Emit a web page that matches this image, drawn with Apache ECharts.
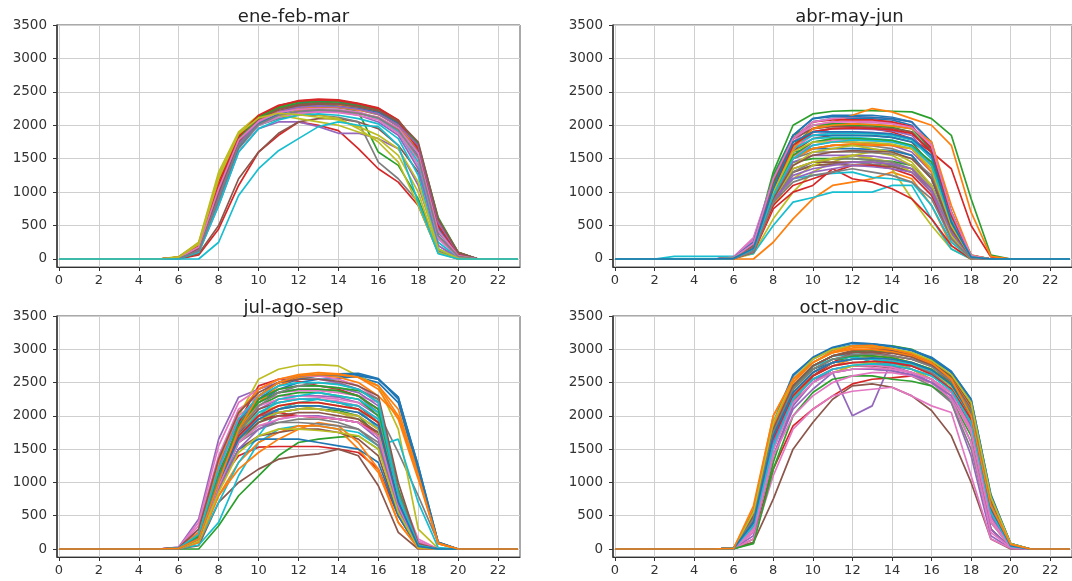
<!DOCTYPE html>
<html>
<head>
<meta charset="utf-8">
<script src="https://cdn.jsdelivr.net/npm/echarts@6/dist/echarts.min.js"></script>
<style>
  html, body { margin: 0; padding: 0; background: #ffffff; }
  #chart { width: 1072px; height: 581px; }
</style>
</head>
<body>
<div id="chart"></div>
<script>
// ---- data ----
const hours = [0,1,2,3,4,5,6,7,8,9,10,11,12,13,14,15,16,17,18,19,20,21,22,23];
const xTickLabels = [0,2,4,6,8,10,12,14,16,18,20,22];
const yTickLabels = [0,500,1000,1500,2000,2500,3000,3500];
const panelTitles = ['ene-feb-mar', 'abr-may-jun', 'jul-ago-sep', 'oct-nov-dic'];

const eneFebMar = [
  [0,0,0,0,0,0,10,120,900,1700,2050,2200,2280,2300,2290,2250,2180,1980,1550,400,60,0,0,0],
  [0,0,0,0,0,0,20,200,1150,1800,2120,2260,2320,2330,2300,2260,2200,2020,1620,500,80,0,0,0],
  [0,0,0,0,0,0,15,150,1000,1750,2080,2250,2300,2310,2280,2200,1600,1400,900,150,10,0,0,0],
  [0,0,0,0,0,0,0,60,450,1100,1600,1850,2050,2000,1920,1650,1350,1150,800,100,0,0,0,0],
  [0,0,0,0,0,0,10,100,800,1600,1950,2050,2050,1980,1880,1880,1800,1650,1100,200,20,0,0,0],
  [0,0,0,0,0,0,5,80,500,1200,1600,1880,2050,2100,2100,2050,1950,1700,1300,350,40,0,0,0],
  [0,0,0,0,0,0,25,220,1100,1750,2050,2180,2230,2240,2230,2200,2100,1900,1400,300,30,0,0,0],
  [0,0,0,0,0,0,10,130,850,1650,2000,2100,2150,2150,2120,2050,1450,1200,850,120,5,0,0,0],
  [0,0,0,0,0,0,30,250,1300,1900,2150,2220,2200,2150,2100,1950,1750,1450,800,90,0,0,0,0],
  [0,0,0,0,0,0,10,150,950,1700,2000,2120,2180,2200,2200,2180,2100,1900,1450,250,20,0,0,0],
  [0,0,0,0,0,0,20,180,1050,1800,2100,2250,2330,2360,2350,2300,2230,2050,1680,550,90,0,0,0],
  [0,0,0,0,0,0,25,210,1200,1850,2100,2200,2230,2240,2220,2180,2120,1950,1600,450,60,0,0,0],
  [0,0,0,0,0,0,20,190,1100,1820,2130,2280,2350,2370,2360,2320,2250,2070,1700,580,95,0,0,0],
  [0,0,0,0,0,0,30,230,1150,1850,2140,2290,2370,2390,2380,2330,2260,2080,1700,600,100,0,0,0],
  [0,0,0,0,0,0,15,160,950,1700,2050,2150,2200,2210,2200,2150,2050,1850,1350,200,15,0,0,0],
  [0,0,0,0,0,0,20,170,1000,1750,2080,2220,2290,2320,2320,2280,2210,2040,1650,520,80,0,0,0],
  [0,0,0,0,0,0,10,140,900,1700,2000,2120,2180,2200,2190,2150,2080,1880,1500,320,30,0,0,0],
  [0,0,0,0,0,0,15,150,950,1720,2030,2180,2250,2270,2260,2230,2160,1990,1600,450,60,0,0,0],
  [0,0,0,0,0,0,35,240,1250,1880,2100,2150,2100,2050,2000,1900,1800,1550,1000,100,0,0,0,0],
  [0,0,0,0,0,0,5,100,800,1600,1950,2080,2150,2170,2150,2100,2020,1800,1250,150,10,0,0,0],
  [0,0,0,0,0,0,10,130,900,1680,2020,2170,2250,2280,2280,2250,2190,2020,1640,480,70,0,0,0],
  [0,0,0,0,0,0,20,190,1100,1780,2080,2200,2260,2280,2270,2230,2170,2000,1650,520,80,0,0,0],
  [0,0,0,0,0,0,15,170,1050,1800,2120,2260,2320,2340,2330,2290,2230,2060,1720,620,100,0,0,0],
  [0,0,0,0,0,0,25,200,1100,1830,2150,2300,2360,2380,2370,2320,2250,2060,1650,500,70,0,0,0],
  [0,0,0,0,0,0,10,140,950,1720,2060,2200,2270,2290,2280,2240,2170,2000,1700,550,90,0,0,0],
  [0,0,0,0,0,0,15,160,1000,1760,2090,2240,2310,2330,2320,2280,2220,2060,1750,600,95,0,0,0],
  [0,0,0,0,0,0,20,180,1050,1780,2060,2190,2240,2250,2230,2190,2120,1960,1580,420,50,0,0,0],
  [0,0,0,0,0,0,10,120,900,1690,2010,2150,2210,2230,2220,2180,2110,1930,1520,350,40,0,0,0],
  [0,0,0,0,0,0,30,220,1200,1870,2110,2180,2160,2120,2080,1980,1850,1650,1150,150,10,0,0,0],
  [0,0,0,0,0,0,0,0,250,950,1350,1620,1800,1980,2050,2000,1980,1700,850,80,0,0,0,0]
];

const abrMayJun = [
  [0,0,0,0,0,0,10,150,1100,1800,2050,2100,2100,2100,2080,2000,1600,600,50,0,0,0,0,0],
  [0,0,0,0,0,0,0,0,250,600,900,1100,1150,1200,1300,1200,800,200,0,0,0,0,0,0],
  [0,0,0,0,0,0,20,200,1300,2000,2170,2210,2220,2220,2210,2200,2100,1850,900,60,0,0,0,0],
  [0,0,0,0,0,0,5,120,900,1600,1900,1950,1950,1950,1900,1800,1600,1350,500,30,0,0,0,0],
  [0,0,0,0,0,0,30,300,1200,1700,1900,1950,1950,1940,1920,1850,1500,500,30,0,0,0,0,0],
  [0,0,0,0,0,0,10,150,1000,1600,1800,1850,1850,1850,1820,1750,1400,450,20,0,0,0,0,0],
  [0,0,0,0,0,0,25,280,1150,1750,2000,2050,2060,2060,2040,1980,1650,600,40,0,0,0,0,0],
  [0,0,0,0,0,0,10,120,800,1300,1400,1420,1450,1420,1400,1300,1000,350,10,0,0,0,0,0],
  [0,0,0,0,0,0,5,80,600,1000,1300,1450,1550,1500,1350,900,500,150,0,0,0,0,0,0],
  [0,0,0,40,40,40,40,80,500,850,920,1000,1000,1000,1100,1100,600,150,0,0,0,0,0,0],
  [0,0,0,0,0,0,15,180,1150,1850,2100,2150,2150,2150,2120,2050,1700,650,60,0,0,0,0,0],
  [0,0,0,0,0,0,10,150,1000,1700,1950,2050,2150,2250,2200,2100,2000,1700,700,40,0,0,0,0],
  [0,0,0,0,0,0,10,140,900,1450,1500,1500,1500,1480,1460,1400,1100,400,20,0,0,0,0,0],
  [0,0,0,0,0,0,5,100,750,1000,1100,1350,1200,1150,1050,900,600,200,0,0,0,0,0,0],
  [0,0,0,0,0,0,20,200,1000,1550,1700,1750,1750,1720,1700,1600,1300,450,20,0,0,0,0,0],
  [0,0,0,0,0,0,10,130,850,1300,1400,1420,1400,1400,1380,1300,1050,380,10,0,0,0,0,0],
  [0,0,0,0,0,0,15,180,1050,1650,1850,1900,1900,1890,1870,1800,1500,500,30,0,0,0,0,0],
  [0,0,0,0,0,0,10,140,950,1500,1650,1700,1700,1690,1650,1550,1200,420,20,0,0,0,0,0],
  [0,0,0,0,0,0,10,120,800,1200,1400,1500,1550,1500,1450,1300,1000,300,10,0,0,0,0,0],
  [0,0,0,0,0,0,10,150,900,1200,1250,1280,1300,1220,1200,1150,800,250,10,0,0,0,0,0],
  [0,0,0,0,0,0,15,170,1100,1750,1850,1850,1850,1840,1820,1750,1550,700,50,0,0,0,0,0],
  [0,0,0,0,0,0,10,140,1000,1500,1650,1700,1720,1700,1700,1650,1300,500,30,0,0,0,0,0],
  [0,0,0,0,0,0,20,220,1250,1850,2000,2020,2020,2010,1990,1950,1650,700,50,0,0,0,0,0],
  [0,0,0,0,0,0,15,180,1150,1800,2050,2080,2080,2080,2050,1980,1650,650,40,0,0,0,0,0],
  [0,0,0,0,0,0,10,150,950,1450,1550,1550,1550,1540,1500,1400,1100,350,20,0,0,0,0,0],
  [0,0,0,0,0,0,10,140,900,1350,1450,1450,1450,1450,1420,1350,1050,350,10,0,0,0,0,0],
  [0,0,0,0,0,0,30,320,1200,1800,2050,2100,2120,2120,2100,2050,1700,650,50,0,0,0,0,0],
  [0,0,0,0,0,0,5,110,850,1300,1450,1500,1500,1480,1450,1350,1050,350,10,0,0,0,0,0],
  [0,0,0,0,0,0,10,130,900,1350,1450,1500,1550,1600,1550,1400,1050,300,0,0,0,0,0,0],
  [0,0,0,0,0,0,15,170,1050,1650,1800,1820,1820,1800,1780,1700,1450,550,30,0,0,0,0,0],
  [0,0,0,0,0,0,15,160,1000,1600,1650,1650,1650,1640,1620,1550,1200,450,20,0,0,0,0,0],
  [0,0,0,0,0,0,10,150,950,1550,1650,1700,1720,1720,1700,1650,1350,500,30,0,0,0,0,0],
  [0,0,0,0,0,0,15,180,1100,1700,1950,2000,2000,1990,1970,1900,1600,650,40,0,0,0,0,0],
  [0,0,0,0,0,0,10,130,800,1100,1200,1300,1400,1400,1350,1250,950,300,10,0,0,0,0,0],
  [0,0,0,0,0,0,10,140,900,1200,1300,1350,1400,1380,1350,1300,1000,350,10,0,0,0,0,0],
  [0,0,0,0,0,0,20,200,1150,1800,1950,1980,1980,1970,1950,1900,1600,600,40,0,0,0,0,0],
  [0,0,0,0,0,0,15,170,1000,1500,1750,1780,1780,1770,1750,1700,1400,500,30,0,0,0,0,0],
  [0,0,0,0,0,0,10,150,950,1500,1600,1600,1600,1590,1570,1500,1250,450,20,0,0,0,0,0],
  [0,0,0,0,0,0,10,140,900,1400,1600,1650,1700,1650,1600,1450,1100,350,10,0,0,0,0,0],
  [0,0,0,0,0,0,15,170,1050,1700,1850,1880,1880,1870,1850,1780,1500,600,40,0,0,0,0,0],
  [0,0,0,0,0,0,20,250,1200,1850,2100,2130,2130,2120,2100,2050,1750,700,50,0,0,0,0,0],
  [0,0,0,0,0,0,10,160,1000,1650,1950,2000,2020,2010,1990,1950,1750,800,60,0,0,0,0,0],
  [0,0,0,0,0,0,10,150,950,1550,1750,1800,1800,1790,1770,1700,1450,550,30,0,0,0,0,0],
  [0,0,0,0,0,0,15,170,1050,1700,1900,1950,1960,1950,1930,1880,1600,650,40,0,0,0,0,0],
  [0,0,0,0,0,0,10,130,850,1250,1350,1400,1450,1450,1420,1350,1050,400,10,0,0,0,0,0],
  [0,0,0,0,0,0,10,140,900,1400,1550,1600,1620,1610,1600,1500,1200,450,20,0,0,0,0,0],
  [0,0,0,0,0,0,20,230,1200,1800,2000,2050,2050,2040,2020,1970,1700,700,50,0,0,0,0,0],
  [0,0,0,0,0,0,10,120,850,1150,1250,1300,1350,1300,1250,1150,900,300,10,0,0,0,0,0],
  [0,0,0,0,0,0,15,160,1000,1600,1750,1750,1750,1740,1720,1650,1350,500,30,0,0,0,0,0],
  [0,0,0,0,0,0,10,150,950,1500,1700,1750,1780,1770,1750,1680,1400,550,30,0,0,0,0,0],
  [0,0,0,0,0,0,10,160,1050,1750,1900,1900,1900,1890,1870,1800,1550,550,30,0,0,0,0,0]
];

const julAgoSep = [
  [0,0,0,0,0,0,10,150,1100,1900,2300,2500,2580,2600,2600,2580,2500,2200,1150,80,0,0,0,0],
  [0,0,0,0,0,0,10,100,900,1700,2400,2550,2600,2620,2620,2580,2450,2000,1200,100,0,0,0,0],
  [0,0,0,0,0,0,0,0,350,800,1100,1400,1600,1650,1680,1700,1500,800,50,0,0,0,0,0],
  [0,0,0,0,0,0,10,150,1000,1400,1530,1540,1540,1540,1500,1450,1200,500,20,0,0,0,0,0],
  [0,0,0,0,0,0,30,450,1650,2280,2400,2500,2550,2550,2500,2400,2200,700,50,0,0,0,0,0],
  [0,0,0,0,0,0,0,50,700,1000,1200,1350,1400,1430,1500,1400,950,250,0,0,0,0,0,0],
  [0,0,0,0,0,0,20,350,1400,2100,2300,2350,2380,2380,2350,2300,2200,900,150,0,0,0,0,0],
  [0,0,0,0,0,0,10,200,1200,1900,2200,2350,2400,2400,2380,2300,2050,1450,800,100,0,0,0,0],
  [0,0,0,0,0,0,10,150,1100,2000,2550,2700,2760,2770,2750,2600,2450,1800,300,10,0,0,0,0],
  [0,0,0,0,0,0,5,60,400,1100,1600,1800,1850,1850,1800,1750,1550,1650,700,20,0,0,0,0],
  [0,0,0,0,0,0,10,150,1000,1800,2200,2400,2500,2550,2560,2600,2550,2280,1250,100,0,0,0,0],
  [0,0,0,0,0,0,5,100,800,1300,1600,1750,1850,1850,1800,1500,1150,400,20,0,0,0,0,0],
  [0,0,0,0,0,0,10,120,900,1600,1900,2050,2100,2100,2080,2000,1700,600,30,0,0,0,0,0],
  [0,0,0,0,0,0,15,200,1150,1900,2450,2550,2520,2450,2400,2300,2100,700,40,0,0,0,0,0],
  [0,0,0,0,0,0,10,150,1000,1700,2100,2250,2300,2300,2280,2200,2000,650,40,0,0,0,0,0],
  [0,0,0,0,0,0,10,120,900,1500,1700,1750,1800,1800,1750,1650,1400,500,20,0,0,0,0,0],
  [0,0,0,0,0,0,20,300,1300,2000,2250,2300,2300,2280,2250,2200,2050,850,120,0,0,0,0,0],
  [0,0,0,0,0,0,10,150,1000,1600,1800,1900,1950,1950,1900,1800,1550,550,30,0,0,0,0,0],
  [0,0,0,0,0,0,10,130,950,1700,2000,2100,2150,2100,2050,1950,1700,600,20,0,0,0,0,0],
  [0,0,0,0,0,0,10,100,700,1300,1700,2100,2200,2250,2200,2100,1800,600,30,0,0,0,0,0],
  [0,0,0,0,0,0,10,130,900,1500,1650,1650,1650,1600,1550,1500,1300,500,20,0,0,0,0,0],
  [0,0,0,0,0,0,5,100,800,1200,1450,1650,1800,1900,1850,1600,1200,400,10,0,0,0,0,0],
  [0,0,0,0,0,0,10,150,1050,1800,2150,2300,2350,2350,2300,2250,2000,750,40,0,0,0,0,0],
  [0,0,0,0,0,0,10,140,950,1700,1950,2000,2000,1980,1950,1900,1700,650,30,0,0,0,0,0],
  [0,0,0,0,0,0,20,250,1250,1950,2250,2400,2450,2450,2420,2350,2150,800,60,0,0,0,0,0],
  [0,0,0,0,0,0,10,160,1050,1750,2100,2200,2250,2250,2200,2150,1900,700,40,0,0,0,0,0],
  [0,0,0,0,0,0,15,220,1200,1850,2150,2250,2250,2250,2220,2150,1950,750,50,0,0,0,0,0],
  [0,0,0,0,0,0,10,140,950,1600,1850,1900,1900,1880,1850,1800,1600,600,30,0,0,0,0,0],
  [0,0,0,0,0,0,10,150,1000,1750,2050,2150,2200,2200,2150,2100,1900,700,40,0,0,0,0,0],
  [0,0,0,0,0,0,10,140,950,1650,2000,2250,2300,2350,2300,2250,2050,800,40,0,0,0,0,0],
  [0,0,0,0,0,0,10,150,1050,1850,2250,2450,2550,2600,2620,2620,2550,2280,1200,90,0,0,0,0],
  [0,0,0,0,0,0,10,150,1000,1800,2200,2450,2580,2600,2580,2500,2300,2000,1100,80,0,0,0,0],
  [0,0,0,0,0,0,15,200,1100,1850,2200,2350,2400,2400,2380,2300,2100,750,40,0,0,0,0,0],
  [0,0,0,0,0,0,10,170,1050,1750,2000,2050,2000,1980,1950,1900,1750,650,30,0,0,0,0,0],
  [0,0,0,0,0,0,10,160,1000,1700,1950,2050,2100,2100,2050,2000,1800,650,30,0,0,0,0,0],
  [0,0,0,0,0,0,10,130,950,1650,1900,2000,2050,2050,2000,1950,1750,600,30,0,0,0,0,0],
  [0,0,0,0,0,0,25,400,1550,2200,2400,2550,2600,2600,2550,2450,2250,850,100,0,0,0,0,0],
  [0,0,0,0,0,0,10,150,1000,1700,2000,2100,2150,2150,2100,2050,1850,700,40,0,0,0,0,0],
  [0,0,0,0,0,0,10,140,950,1650,1950,2050,2100,2100,2050,2000,1800,650,30,0,0,0,0,0],
  [0,0,0,0,0,0,10,150,1000,1700,2050,2200,2250,2250,2200,2150,1950,750,40,0,0,0,0,0],
  [0,0,0,0,0,0,10,150,1050,1800,2300,2500,2600,2620,2630,2640,2560,2250,1250,100,0,0,0,0],
  [0,0,0,0,0,0,15,250,1300,2050,2400,2550,2620,2650,2630,2580,2450,2100,1100,80,0,0,0,0],
  [0,0,0,0,0,0,10,180,1100,1850,2250,2400,2450,2450,2420,2380,2250,900,60,0,0,0,0,0],
  [0,0,0,0,0,0,10,150,1000,1700,2000,2150,2200,2200,2150,2100,1900,700,40,0,0,0,0,0],
  [0,0,0,0,0,0,10,130,900,1500,1800,1950,2000,2000,1950,1900,1650,600,30,0,0,0,0,0],
  [0,0,0,0,0,0,20,300,1350,2050,2350,2500,2550,2550,2520,2450,2300,1000,80,0,0,0,0,0],
  [0,0,0,0,0,0,10,140,950,1600,1850,1950,2000,1980,1950,1900,1700,650,30,0,0,0,0,0],
  [0,0,0,0,0,0,10,160,1050,1750,2150,2350,2450,2500,2480,2400,2250,850,60,0,0,0,0,0],
  [0,0,0,0,0,0,10,120,850,1450,1700,1800,1800,1780,1750,1700,1500,550,20,0,0,0,0,0],
  [0,0,0,0,0,0,15,220,1200,1950,2300,2450,2500,2500,2470,2400,2200,800,50,0,0,0,0,0],
  [0,0,0,0,0,0,10,150,1000,1650,1950,2100,2150,2150,2100,2050,1850,700,40,0,0,0,0,0],
  [0,0,0,0,0,0,10,150,1000,1800,2300,2500,2600,2620,2620,2580,2400,1950,1050,90,0,0,0,0]
];

const octNovDic = [
  [0,0,0,0,0,0,10,500,1800,2600,2880,3030,3100,3080,3050,2990,2870,2660,2250,800,80,0,0,0],
  [0,0,0,0,0,0,10,600,2000,2550,2800,2980,3050,3050,3000,2950,2820,2550,2000,650,70,0,0,0],
  [0,0,0,0,0,0,5,100,1300,2200,2600,2800,2900,2950,3050,3000,2850,2600,2100,700,60,0,0,0],
  [0,0,0,0,0,0,5,150,1200,1850,2100,2300,2480,2550,2570,2600,2500,2300,1800,300,20,0,0,0],
  [0,0,0,0,0,0,10,200,1400,2100,2400,2650,2000,2150,2850,2700,2550,2200,1400,200,10,0,0,0],
  [0,0,0,0,0,0,5,100,750,1500,1900,2250,2450,2480,2430,2300,2080,1700,1000,150,0,0,0,0],
  [0,0,0,0,0,0,5,150,1100,1800,2100,2300,2370,2400,2430,2300,2150,2050,1100,150,10,0,0,0],
  [0,0,0,0,0,0,10,300,1500,2200,2500,2650,2700,2700,2680,2600,2450,2200,1500,300,20,0,0,0],
  [0,0,0,0,0,0,10,350,1600,2300,2650,2800,2850,2850,2800,2700,2550,2300,1800,500,40,0,0,0],
  [0,0,0,0,0,0,10,400,1700,2400,2750,2900,2920,2800,2780,2750,2650,2450,2100,700,60,0,0,0],
  [0,0,0,0,0,0,10,450,1800,2450,2700,2800,2850,2850,2800,2750,2650,2450,2050,650,60,0,0,0],
  [0,0,0,0,0,0,10,400,1700,2350,2600,2750,2850,2900,2880,2800,2700,2500,2050,650,50,0,0,0],
  [0,0,0,0,0,0,5,80,1200,2000,2350,2550,2600,2600,2550,2520,2450,2250,1700,400,30,0,0,0],
  [0,0,0,0,0,0,10,300,1500,2250,2600,2800,2950,3000,2980,2900,2800,2550,2050,600,50,0,0,0],
  [0,0,0,0,0,0,10,250,1400,2150,2500,2700,2750,2780,2750,2650,2500,2250,1600,300,20,0,0,0],
  [0,0,0,0,0,0,10,350,1550,2250,2550,2700,2750,2750,2720,2650,2550,2350,1850,500,40,0,0,0],
  [0,0,0,0,0,0,10,250,1400,2000,2300,2500,2600,2650,2650,2600,2500,2250,1600,250,20,0,0,0],
  [0,0,0,0,0,0,10,350,1600,2300,2600,2750,2800,2800,2750,2700,2600,2400,1900,550,40,0,0,0],
  [0,0,0,0,0,0,10,400,1700,2350,2650,2800,2850,2880,2850,2780,2650,2450,1950,600,50,0,0,0],
  [0,0,0,0,0,0,10,450,1750,2400,2750,2900,2950,2950,2900,2850,2750,2550,2150,750,70,0,0,0],
  [0,0,0,0,0,0,10,500,1800,2550,2850,3000,3060,3070,3040,2980,2860,2650,2200,780,80,0,0,0],
  [0,0,0,0,0,0,10,500,1850,2500,2800,2950,3020,3030,2980,2900,2780,2550,2100,700,70,0,0,0],
  [0,0,0,0,0,0,10,450,1750,2450,2750,2900,2970,2980,2960,2900,2800,2580,2150,720,70,0,0,0],
  [0,0,0,0,0,0,10,400,1700,2400,2700,2850,2900,2950,2900,2850,2750,2500,2050,650,60,0,0,0],
  [0,0,0,0,0,0,10,350,1600,2350,2650,2800,2850,2850,2820,2750,2650,2400,1950,550,50,0,0,0],
  [0,0,0,0,0,0,10,450,1750,2450,2750,2900,2980,3000,2980,2920,2800,2600,2150,750,70,0,0,0],
  [0,0,0,0,0,0,10,300,1500,2250,2550,2700,2750,2760,2730,2650,2550,2300,1750,400,30,0,0,0],
  [0,0,0,0,0,0,10,400,1650,2350,2650,2800,2850,2850,2800,2750,2650,2400,1950,600,50,0,0,0],
  [0,0,0,0,0,0,10,350,1650,2300,2550,2650,2750,2800,2850,2800,2700,2450,2000,600,50,0,0,0],
  [0,0,0,0,0,0,10,450,1800,2450,2750,2850,2880,2850,2820,2780,2680,2480,2100,700,60,0,0,0],
  [0,0,0,0,0,0,10,550,1900,2620,2870,3020,3090,3080,3040,2990,2880,2670,2250,820,80,0,0,0],
  [0,0,0,0,0,0,10,500,1850,2500,2800,2950,3000,3000,2960,2900,2780,2560,2120,720,70,0,0,0],
  [0,0,0,0,0,0,10,450,1700,2400,2700,2850,2900,2900,2870,2800,2700,2480,2050,650,60,0,0,0],
  [0,0,0,0,0,0,10,400,1650,2300,2600,2750,2800,2820,2800,2750,2620,2400,1950,600,50,0,0,0],
  [0,0,0,0,0,0,10,350,1600,2250,2550,2650,2700,2700,2680,2620,2500,2300,1850,500,40,0,0,0],
  [0,0,0,0,0,0,10,500,1800,2450,2750,2900,2950,2960,2940,2880,2760,2550,2100,700,60,0,0,0],
  [0,0,0,0,0,0,10,300,1500,2200,2500,2650,2700,2720,2700,2650,2550,2350,1800,450,30,0,0,0],
  [0,0,0,0,0,0,10,450,1750,2400,2700,2850,2920,2930,2900,2850,2740,2520,2080,680,60,0,0,0],
  [0,0,0,0,0,0,10,550,1900,2550,2850,3000,3050,3050,3010,2950,2830,2620,2200,780,80,0,0,0],
  [0,0,0,0,0,0,10,350,1550,2250,2550,2700,2760,2780,2760,2700,2600,2380,1900,550,40,0,0,0],
  [0,0,0,0,0,0,10,400,1700,2350,2650,2800,2850,2870,2850,2800,2690,2470,2000,620,50,0,0,0],
  [0,0,0,0,0,0,10,650,2000,2550,2800,2950,3050,3060,3000,2930,2800,2550,2000,650,70,0,0,0]
];

const panelLines = [eneFebMar, abrMayJun, julAgoSep, octNovDic];

// ---- styling / layout ----
const palette = ['#1f77b4','#ff7f0e','#2ca02c','#d62728','#9467bd','#8c564b','#e377c2','#7f7f7f','#bcbd22','#17becf'];
const boxes = [
  { left: 57,  top: 25,  width: 463, height: 242 },
  { left: 613, top: 25,  width: 463, height: 242 },
  { left: 57,  top: 316, width: 463, height: 241 },
  { left: 613, top: 316, width: 463, height: 241 }
];
const FONT = 'DejaVu Sans';

const grids = [], xAxes = [], yAxes = [], series = [], titles = [];
boxes.forEach((b, p) => {
  grids.push({ left: b.left, top: b.top, width: b.width, height: b.height, show: true,
    borderColor: '#555', borderWidth: 1, backgroundColor: '#fff', containLabel: false });
  xAxes.push({
    type: 'value', gridIndex: p, min: -0.1, max: 23.1, minInterval: 2, maxInterval: 2, splitNumber: 12,
    axisLine: { show: true, onZero: false, lineStyle: { color: '#333', width: 1.2 } },
    axisTick: { show: true, length: 4, customValues: xTickLabels, lineStyle: { color: '#333' } },
    axisLabel: { show: true, customValues: xTickLabels, margin: 7, fontFamily: FONT, fontSize: 13, color: '#333',
      formatter: v => (v >= 0 && v <= 22 && v % 2 === 0) ? String(v) : '' },
    splitLine: { show: true, lineStyle: { color: '#cfcfcf', width: 1 } }
  });
  yAxes.push({
    type: 'value', gridIndex: p, min: -120, max: 3500, minInterval: 500, maxInterval: 500, splitNumber: 7,
    axisLine: { show: true, onZero: false, lineStyle: { color: '#333', width: 1.5 } },
    axisTick: { show: true, length: 4, customValues: yTickLabels, lineStyle: { color: '#333' } },
    axisLabel: { show: true, customValues: yTickLabels, margin: 10, fontFamily: FONT, fontSize: 13.5, color: '#333',
      formatter: v => (v >= 0 && v % 500 === 0) ? String(v) : '' },
    splitLine: { show: true, lineStyle: { color: '#cfcfcf', width: 1 } }
  });
  titles.push({ text: panelTitles[p], left: b.left + b.width / 2, top: p < 2 ? 3 : 294, textAlign: 'center',
    textStyle: { fontFamily: FONT, fontSize: 18, fontWeight: 'normal', color: '#222' } });
  panelLines[p].forEach((vals, i) => {
    series.push({
      type: 'line', xAxisIndex: p, yAxisIndex: p, symbol: 'none', showSymbol: false,
      data: vals.map((v, h) => [hours[h], v]),
      lineStyle: { width: 1.7, color: palette[i % 10] }, itemStyle: { color: palette[i % 10] },
      silent: true, z: 3
    });
  });
});

const chart = echarts.init(document.getElementById('chart'), null, { renderer: 'canvas' });
chart.setOption({
  backgroundColor: '#ffffff',
  animation: false,
  title: titles,
  grid: grids,
  xAxis: xAxes,
  yAxis: yAxes,
  series: series
});
</script>
</body>
</html>
